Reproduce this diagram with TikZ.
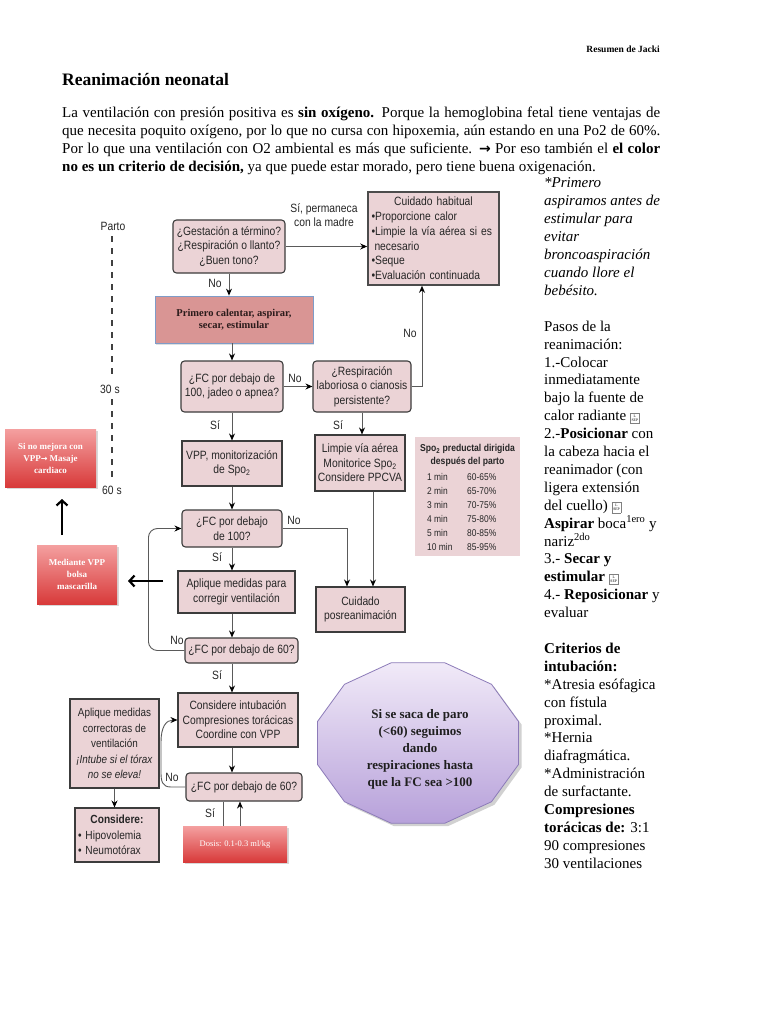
\documentclass[tikz,border=0pt]{standalone}
\usepackage{fontspec}
\setmainfont{Liberation Serif}
\newfontfamily\flowfont[FakeStretch=0.86]{Liberation Sans}
\newfontfamily\symfont{DejaVu Sans}
\usetikzlibrary{arrows.meta,shadows,calc}
\definecolor{boxpink}{HTML}{EBD3D6}
\definecolor{boxline}{HTML}{3C3C3C}
\definecolor{linegray}{HTML}{5A5A5A}
\definecolor{txtgray}{HTML}{262626}
\definecolor{salmon}{HTML}{D99594}
\definecolor{bluegray}{HTML}{7F9CC8}
\definecolor{darktext}{HTML}{2B1B1B}
\definecolor{redtop}{HTML}{F4A0A0}
\definecolor{redbot}{HTML}{D83A3A}
\definecolor{lavtop}{HTML}{F1EAF8}
\definecolor{lavbot}{HTML}{B7A1DA}
\definecolor{lavline}{HTML}{8C7BB8}
\newcommand\lsepmark{\raisebox{-1pt}{\color{gray}\setlength{\fboxsep}{0.5pt}\setlength{\fboxrule}{0.4pt}\fbox{\color{black}\parbox[c][9pt][c]{8pt}{\centering\fontsize{3.8}{4.2}\selectfont L\\SEP}}}}
\begin{document}
\begin{tikzpicture}[x=1pt,y=-1pt,
  wh/.style 2 args={minimum width=#1, minimum height=#2},
  sbox/.style={draw=boxline, line width=1.1pt, fill=boxpink, font=\flowfont\fontsize{12}{14.5}\selectfont, text=txtgray, align=center, inner sep=1pt},
  qbox/.style={sbox, rounded corners=3.5pt},
  conn/.style={draw=linegray, line width=0.9pt, -{Stealth[length=7pt,width=6pt,color=black]}},
  plain/.style={draw=linegray, line width=0.9pt},
  lbl/.style={font=\flowfont\fontsize{12}{14}\selectfont, text=txtgray, inner sep=0, align=center},
  redgrad/.style={draw=none, top color=redtop, bottom color=redbot, text=white, align=center, drop shadow={opacity=0.3, shadow xshift=1.5pt, shadow yshift=-1.5pt}},
  bigarrow/.style={line width=2.2pt, black, -{Straight Barb[length=5pt,width=11pt]}},
  tline/.style={draw=black!75, line width=1.1pt, dash pattern=on 6pt off 6pt},
  rcol/.style={anchor=base west, inner sep=0, font=\fontsize{15}{18}\selectfont},
  tabf/.style={font=\flowfont\fontsize{9.8}{11}\selectfont, text=txtgray, inner sep=0}
]
\path[use as bounding box, fill=white] (0,0) rectangle (768,1024);

% header
\node[anchor=base east, inner sep=0, font=\bfseries\fontsize{9.5}{11}\selectfont] (hdr) at (660,53) {Resumen de Jacki};
\node[anchor=base west, inner sep=0, font=\bfseries\fontsize{17.5}{20}\selectfont] (title) at (62,86) {Reanimación neonatal};
\node[anchor=base west, inner sep=0, font=\fontsize{15}{18}\selectfont] (p1) at (62,118) {\makebox[598pt][s]{La ventilación con presión positiva es \textbf{sin oxígeno.} Porque la hemoglobina fetal tiene ventajas de}};
\node[anchor=base west, inner sep=0, font=\fontsize{15}{18}\selectfont] (p2) at (62,136) {\makebox[598pt][s]{que necesita poquito oxígeno, por lo que no cursa con hipoxemia, aún estando en una Po2 de 60\%.}};
\node[anchor=base west, inner sep=0, font=\fontsize{15}{18}\selectfont] (p3) at (62,154) {\makebox[598pt][s]{Por lo que una ventilación con O2 ambiental es más que suficiente. {\symfont\bfseries\fontsize{14}{18}\selectfont →} Por eso también el \textbf{el color}}};
\node[anchor=base west, inner sep=0, font=\fontsize{15}{18}\selectfont] (p4) at (62,172) {\textbf{no es un criterio de decisión,} ya que puede estar morado, pero tiene buena oxigenación.};

% right column
\foreach \t [count=\i from 0] in {
 \textit{*Primero}, \textit{aspiramos antes de}, \textit{estimular para}, \textit{evitar},
 \textit{broncoaspiración}, \textit{cuando llore el}, \textit{bebésito.}, {},
 Pasos de la, reanimación:, 1.-Colocar, inmediatamente, bajo la fuente de,
 calor radiante \lsepmark, 2.-\textbf{Posicionar} con, la cabeza hacia el,
 reanimador (con, ligera extensión, del cuello) \lsepmark,
 \textbf{Aspirar} boca\textsuperscript{1ero} y, nariz\textsuperscript{2do},
 3.- \textbf{Secar y}, \textbf{estimular} \lsepmark, 4.- \textbf{Reposicionar} y, evaluar, {},
 \textbf{Criterios de}, \textbf{intubación:}, *Atresia esófagica, con fístula, proximal.,
 *Hernia, diafragmática., *Administración, de surfactante., \textbf{Compresiones},
 \textbf{torácicas de:} 3:1, 90 compresiones, 30 ventilaciones}
 {\node[rcol] (rc\i) at (544,{188+17.9*\i}) {\t};}

% time line
\node[lbl] (parto) at (113,226) {Parto};
\node[lbl] (t30) at (110,389) {30 s};
\node[lbl] (t60) at (112,490) {60 s};
\draw[tline] (112,236) -- (112,379);
\draw[tline] (112,399) -- (112,482);

% flowchart nodes
\node[qbox, wh={112}{53}] (b1) at (229,246.5) {¿Gestación a término?\\¿Respiración o llanto?\\¿Buen tono?};
\node[sbox, line width=1.6pt, draw=black!70, text width=124pt, align=left, minimum height=93, inner xsep=3.5pt, font=\flowfont\fontsize{12}{14.8}\selectfont] (hab) at (433.5,238.5)
 {\makebox[124pt]{Cuidado habitual}\\•Proporcione calor\\•Limpie la vía aérea si es\\\hspace*{3pt}necesario\\•Seque\\•Evaluación continuada};
\node[draw=bluegray, line width=0.8pt, fill=salmon, wh={158}{47}, font=\bfseries\fontsize{10.5}{12.5}\selectfont, text=darktext, align=center, drop shadow={opacity=0.25, shadow xshift=1pt, shadow yshift=-1.5pt}] (red1) at (234,319.5) {Primero calentar, aspirar,\\secar, estimular};
\node[qbox, wh={102}{51}] (fc1) at (232,386.5) {¿FC por debajo de\\100, jadeo o apnea?};
\node[qbox, wh={98}{51}] (resp) at (362,386.5) {¿Respiración\\laboriosa o cianosis\\persistente?};
\node[sbox, wh={100}{45}] (vpp) at (232,463.5) {VPP, monitorización\\de Spo\textsubscript{2}};
\node[sbox, wh={90}{56}] (limpie) at (360,463) {Limpie vía aérea\\Monitorice Spo\textsubscript{2}\\Considere PPCVA};
\node[qbox, wh={100}{37}] (fc100b) at (232,528.5) {¿FC por debajo\\de 100?};
\node[sbox, wh={117}{42}] (apl1) at (236.5,592) {Aplique medidas para\\corregir ventilación};
\node[sbox, wh={89}{45}] (posre) at (360.5,609.5) {Cuidado\\posreanimación};
\node[qbox, wh={113}{25}] (fc60) at (241.5,650.5) {¿FC por debajo de 60?};
\node[sbox, wh={120}{54}] (consint) at (238,720) {Considere intubación\\Compresiones torácicas\\Coordine con VPP};
\node[sbox, wh={89}{89}, inner sep=0pt, font=\flowfont\fontsize{11.5}{15.5}\selectfont] (apl2) at (114.5,743.5) {Aplique medidas\\correctoras de\\ventilación\\\textit{¡Intube si el tórax}\\\textit{no se eleva!}};
\node[sbox, wh={84}{54}, text width=78pt, align=left, font=\flowfont\fontsize{11.8}{15.5}\selectfont] (consid) at (117,835) {\makebox[78pt]{\textbf{Considere:}}\\• Hipovolemia\\• Neumotórax};
\node[qbox, wh={116}{28}] (fc60b) at (244,787) {¿FC por debajo de 60?};

% Spo2 table
\node[fill=boxpink, wh={105}{119}, inner sep=0] (spo) at (467.5,496.5) {};
\node[tabf, font=\flowfont\bfseries\fontsize{10}{11}\selectfont] (spot1) at (467.5,449) {Spo\textsubscript{2} preductal dirigida};
\node[tabf, font=\flowfont\bfseries\fontsize{10}{11}\selectfont] (spot2) at (467.5,462) {después del parto};
\foreach \m/\p [count=\i from 0] in {1 min/60-65\%, 2 min/65-70\%, 3 min/70-75\%, 4 min/75-80\%, 5 min/80-85\%, 10 min/85-95\%}
 {\node[tabf, anchor=west] (tm\i) at (427,{477+14*\i}) {\m};
  \node[tabf, anchor=west] (tp\i) at (467,{477+14*\i}) {\p};}

% connectors
\draw[conn] (b1.east) -- (hab.west |- b1.east);
\draw[conn] (b1.south) -- (b1.south |- red1.north);
\draw[conn] (red1.south -| fc1.north) -- (fc1.north);
\draw[conn] (fc1.east) -- (resp.west);
\draw[conn] (resp.east) -| ($(hab.south)+(-11.5,0)$);
\draw[conn] (fc1.south) -- (vpp.north);
\draw[conn] (resp.south) -- (resp.south |- limpie.north);
\draw[conn] (vpp.south) -- (fc100b.north);
\draw[conn] (fc100b.east) -| ($(posre.north)+(-13.5,0)$);
\draw[conn] ([xshift=13pt]limpie.south) -- ([xshift=13pt]limpie.south |- posre.north);
\draw[conn] (fc100b.south) -- (fc100b.south |- apl1.north);
\draw[conn] (apl1.south -| fc100b.south) -- (fc60.north -| fc100b.south);
\draw[conn, rounded corners=9pt] (fc60.west) -| ([xshift=-33pt]fc100b.west) -- (fc100b.west);
\draw[conn] (fc60.south -| fc100b.south) -- (consint.north -| fc100b.south);
\draw[conn] (consint.south -| fc100b.south) -- (fc60b.north -| fc100b.south);
\draw[conn] (fc60b.west) -- (171,787) .. controls (162,787) and (161,781) .. (161,772) -- (161,742) .. controls (161,727) and (166,720) .. (consint.west);
\draw[conn] (apl2.south) -- (apl2.south |- consid.north);
\coordinate (xl) at (223,0);
\coordinate (xr) at (240,0);
\node[redgrad, wh={104}{36}, font=\fontsize{8.5}{10}\selectfont] (dosis) at (235,844) {Dosis: 0.1-0.3 ml/kg};
\draw[plain] (fc60b.south -| xl) -- (dosis.north -| xl);
\draw[conn] (dosis.north -| xr) -- (fc60b.south -| xr);

% labels
\node[lbl, align=center, font=\flowfont\fontsize{12}{14.5}\selectfont] (lsi1) at (324,215) {Sí, permaneca\\con la madre};
\node[lbl] (lno1) at (215,283) {No};
\node[lbl] (lno2) at (295,378) {No};
\node[lbl] (lno3) at (410,333) {No};
\node[lbl] (lsi2) at (215,425) {Sí};
\node[lbl] (lsi3) at (338,425) {Sí};
\node[lbl] (lno4) at (294,520) {No};
\node[lbl] (lsi4) at (217,557) {Sí};
\node[lbl] (lno5) at (177,640) {No};
\node[lbl] (lsi5) at (217,675) {Sí};
\node[lbl] (lno6) at (172,777) {No};
\node[lbl] (lsi6) at (210,813) {Sí};

% red side notes
\node[redgrad, wh={91}{58}, font=\bfseries\fontsize{9}{12}\selectfont] (redA) at (50.5,458) {Si no mejora con\\VPP{\symfont\fontsize{8}{12}\selectfont →} Masaje\\cardiaco};
\node[redgrad, wh={80}{59}, font=\bfseries\fontsize{9}{12}\selectfont] (redB) at (77,574.5) {Mediante VPP\\bolsa\\mascarilla};
\coordinate (ua1) at (62,535);
\coordinate (ua2) at (62,499);
\draw[bigarrow] (ua1) -- (ua2);
\coordinate (la1) at (163,581);
\coordinate (la2) at (128,581);
\draw[bigarrow] (la1) -- (la2);

% purple polygon
\fill[black, opacity=0.18, shift={(3pt,-3pt)}] (518.5,721.5) -- (491.5,684.3) -- (444.9,662.8) -- (391.1,662.8) -- (344.5,684.3) -- (317.5,721.5) -- (317.5,764.5) -- (344.5,801.7) -- (391.1,823.2) -- (444.9,823.2) -- (491.5,801.7) -- (518.5,764.5) -- cycle;
\draw[draw=lavline, line width=0.8pt, top color=lavtop, bottom color=lavbot] (518.5,721.5) -- (491.5,684.3) -- (444.9,662.8) -- (391.1,662.8) -- (344.5,684.3) -- (317.5,721.5) -- (317.5,764.5) -- (344.5,801.7) -- (391.1,823.2) -- (444.9,823.2) -- (491.5,801.7) -- (518.5,764.5) -- cycle;
\node[align=center, font=\bfseries\fontsize{13}{17}\selectfont, text=black!88] (paro) at (420,749) {Si se saca de paro\\(<60) seguimos\\dando\\respiraciones hasta\\que la FC sea >100};
\end{tikzpicture}
\end{document}
